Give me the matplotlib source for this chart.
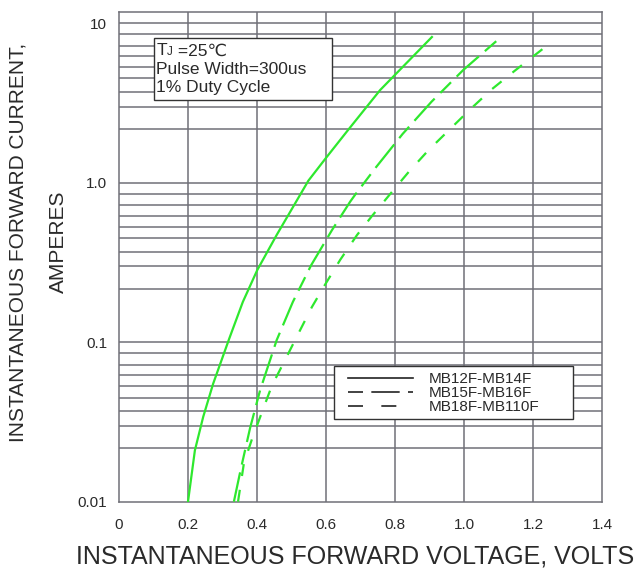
import matplotlib
matplotlib.use("Agg")
import matplotlib.pyplot as plt
from matplotlib.lines import Line2D
from matplotlib.patches import Rectangle

plt.rcParams['font.family'] = ['Liberation Sans', 'DejaVu Sans']

# forward voltage (V) vs forward current (A)
v_mb12 = [0.200, 0.220, 0.244, 0.273, 0.320, 0.359, 0.401, 0.457, 0.549, 0.600,
          0.664, 0.757, 0.907]
i_mb12 = [0.010, 0.021, 0.034, 0.055, 0.106, 0.179, 0.284, 0.470, 1.03, 1.43,
          2.14, 3.81, 8.19]

v_mb15 = [0.333, 0.353, 0.380, 0.409, 0.457, 0.504, 0.557, 0.617, 0.670, 0.684,
          0.745, 0.822, 0.906, 0.998, 1.095]
i_mb15 = [0.010, 0.016, 0.029, 0.050, 0.103, 0.179, 0.304, 0.503, 0.760, 0.838,
          1.25, 2.02, 3.22, 5.09, 7.76]

v_mb18 = [0.345, 0.362, 0.386, 0.414, 0.443, 0.486, 0.516, 0.559, 0.597, 0.641,
          0.690, 0.733, 0.786, 0.840, 0.896, 1.017, 1.081, 1.147, 1.244]
i_mb18 = [0.010, 0.0174, 0.0249, 0.0362, 0.0533, 0.081, 0.109, 0.166, 0.229, 0.328,
          0.470, 0.617, 0.849, 1.17, 1.59, 2.87, 3.86, 5.03, 7.33]

labels = ['MB12F-MB14F', 'MB15F-MB16F', 'MB18F-MB110F']
x_ticks = [0, 0.2, 0.4, 0.6, 0.8, 1.0, 1.2, 1.4]
x_ticklabels = ['0', '0.2', '0.4', '0.6', '0.8', '1.0', '1.2', '1.4']
y_ticks = [0.01, 0.1, 1, 10]
y_ticklabels = ['0.01', '0.1', '1.0', '10']
notes = ['Pulse Width=300us', '1% Duty Cycle']

# the printed grid is not a true log grid, steps inside one decade
grid_steps = [0.85, 0.72, 0.62, 0.53, 0.45, 0.37, 0.30, 0.217]

green = '#2ee82e'
grid_col = '#707078'
txt_col = '#2a2a2a'
long_dash = (0, (13.5, 3.6, 6.8, 3.6))
short_dash = (0, (5.4, 6.3))

fig = plt.figure(figsize=(6.36, 5.71), dpi=100)
ax = fig.add_axes([119 / 636, 69.3 / 571, 483 / 636, 489.4 / 571])

ax.plot(v_mb12, i_mb12, color=green, lw=1.6, zorder=3)
ax.plot(v_mb15, i_mb15, color=green, lw=1.6, linestyle=long_dash, zorder=3)
ax.plot(v_mb18, i_mb18, color=green, lw=1.6, linestyle=short_dash, zorder=3)

ax.set_yscale('log')
ax.set_xlim(0, 1.4)
ax.set_ylim(0.01, 11.7)

# grid
for x in x_ticks[1:-1]:
    ax.axvline(x, color=grid_col, lw=1.1, zorder=1)
for dec in [10, 1, 0.1]:
    ax.axhline(dec, color=grid_col, lw=1.1, zorder=1)
    for s in grid_steps:
        ax.axhline(dec * s, color=grid_col, lw=1.1, zorder=1)

ax.set_xticks(x_ticks)
ax.set_xticklabels(x_ticklabels)
ax.set_yticks(y_ticks)
ax.set_yticklabels(y_ticklabels)
ax.minorticks_off()
ax.tick_params(length=0, labelsize=11, labelcolor=txt_col)
ax.tick_params(axis='x', pad=12)
ax.tick_params(axis='y', pad=8.5)
for sp in ax.spines.values():
    sp.set_color(grid_col)
    sp.set_linewidth(1.1)

# conditions box
ax.add_patch(Rectangle((0.073, 0.821), 0.367, 0.126, transform=ax.transAxes,
                       facecolor='white', edgecolor='#333333', lw=1, zorder=4))
t1 = ax.text(0.077, 0.921, 'T', transform=ax.transAxes, fontsize=12.5,
             color=txt_col, va='center', ha='left', zorder=5)
t2 = ax.annotate('J', xy=(1, 0), xycoords=t1, fontsize=8.5, color=txt_col,
                 va='bottom', ha='left', zorder=5)
ax.annotate(' =25\u2103', xy=(1, 0), xycoords=t2, fontsize=12.5, color=txt_col,
            va='bottom', ha='left', zorder=5)
for k, t in enumerate(notes):
    ax.text(0.077, 0.884 - k * 0.037, t, transform=ax.transAxes, fontsize=12.5,
            color=txt_col, va='center', ha='left', zorder=5)

# legend box, black sample lines
ax.add_patch(Rectangle((0.445, 0.169), 0.495, 0.108, transform=ax.transAxes,
                       facecolor='white', edgecolor='#333333', lw=1, zorder=4))
handles = [Line2D([], [], color='#222222', lw=1.2),
           Line2D([], [], color='#222222', lw=1.2, linestyle=(0, (9, 5, 17, 5))),
           Line2D([], [], color='#222222', lw=1.2, linestyle=(0, (9, 11)))]
leg = ax.legend(handles, labels, loc='upper left', bbox_to_anchor=(0.463, 0.275),
                fontsize=11, labelspacing=0.0, handlelength=4.25, handletextpad=1.05,
                borderpad=0.35, borderaxespad=0, frameon=False)
leg.set_zorder(5)
for t in leg.get_texts():
    t.set_color(txt_col)

fig.text(0.558, 0.026, 'INSTANTANEOUS FORWARD VOLTAGE, VOLTS', fontsize=18,
         color=txt_col, ha='center', va='center')
fig.text(0.0283, 0.575, 'INSTANTANEOUS FORWARD CURRENT,', fontsize=15,
         color=txt_col, ha='center', va='center', rotation=90)
fig.text(0.0912, 0.576, 'AMPERES', fontsize=15, color=txt_col,
         ha='center', va='center', rotation=90)

plt.savefig('out.png', dpi=100)
